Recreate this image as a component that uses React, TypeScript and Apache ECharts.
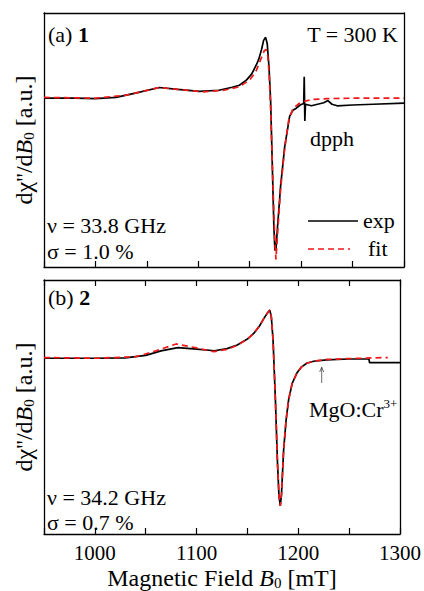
import React, { useEffect, useRef } from "react";
import * as echarts from "echarts";

// Panel (a) – compound 1, experimental spectrum
const fieldA = [950, 980, 1000, 1020, 1040, 1062, 1080, 1101, 1120, 1133, 1140, 1147, 1152, 1156.5, 1159, 1161.5, 1163.5, 1165.5, 1167, 1168.7, 1170.3, 1172, 1173.5, 1174.5, 1175.5, 1177, 1180, 1184, 1188.8, 1192, 1195.3, 1199, 1202.5, 1203.0, 1203.6, 1204.2, 1210, 1216, 1222, 1226, 1230, 1235, 1250, 1270, 1300];
const expA = [0, 0, -0.003, 0.005, 0.035, 0.07, 0.058, 0.045, 0.052, 0.072, 0.085, 0.12, 0.16, 0.22, 0.26, 0.32, 0.38, 0.4, 0.36, 0.21, -0.01, -0.45, -0.85, -1.0, -1.0, -0.85, -0.58, -0.32, -0.12, -0.08, -0.066, -0.045, -0.035, 0.14, -0.15, -0.04, -0.05, -0.04, -0.03, -0.016, -0.04, -0.05, -0.045, -0.04, -0.033];
// Panel (a) – fit
const fitFieldA = [950, 1000, 1030, 1062, 1080, 1105, 1125, 1140, 1150, 1156, 1161, 1164, 1166, 1167.5, 1169, 1170.5, 1172.5, 1174.5, 1175.5, 1177, 1180, 1184, 1188, 1192, 1198, 1203.4, 1212, 1225, 1250, 1300];
const fitA = [0.005, 0, 0.02, 0.07, 0.058, 0.042, 0.052, 0.075, 0.12, 0.175, 0.26, 0.31, 0.32, 0.28, 0.15, -0.1, -0.55, -0.95, -1.06, -0.9, -0.6, -0.33, -0.14, -0.07, -0.035, -0.02, -0.008, -0.003, 0, 0];

// Panel (b) – compound 2, experimental spectrum
const fieldB = [950, 1000, 1030, 1050, 1065, 1081.7, 1100, 1117.5, 1130, 1140, 1150, 1156.4, 1162, 1166.2, 1170, 1172, 1173.5, 1175.2, 1177.5, 1179.5, 1181, 1182.3, 1183.5, 1185.6, 1188, 1190.5, 1194, 1198.6, 1203, 1208.3, 1215, 1227.8, 1250, 1269.5, 1270, 1300];
const expB = [0, 0, 0.003, 0.02, 0.05, 0.072, 0.062, 0.051, 0.065, 0.09, 0.13, 0.17, 0.22, 0.27, 0.31, 0.326, 0.28, 0.124, -0.28, -0.7, -0.93, -1.0, -0.92, -0.62, -0.42, -0.28, -0.17, -0.1, -0.06, -0.034, -0.02, -0.011, -0.005, -0.005, -0.03, -0.03];
// Panel (b) – fit
const fitFieldB = [950, 1000, 1040, 1060, 1080, 1100, 1117, 1130, 1140, 1150, 1156.4, 1162, 1166.2, 1170, 1172, 1173.5, 1175.2, 1177.5, 1179.5, 1181, 1182.3, 1183.5, 1185.6, 1188, 1190.5, 1194, 1198.6, 1203, 1208.3, 1215, 1227.8, 1250, 1288];
const fitB = [0.005, 0, 0.01, 0.05, 0.097, 0.07, 0.045, 0.06, 0.088, 0.13, 0.17, 0.22, 0.27, 0.31, 0.326, 0.28, 0.124, -0.28, -0.7, -0.93, -1.0, -0.92, -0.62, -0.42, -0.28, -0.17, -0.1, -0.06, -0.034, -0.02, -0.008, -0.002, 0.005];

const xTickLabels = [1000, 1100, 1200, 1300];

const FONT = "Liberation Serif";

const zip = (xs: number[], ys: number[]) => xs.map((x, i) => [x, ys[i]]);

export default function App() {
  const ref = useRef<HTMLDivElement>(null);
  useEffect(() => {
    document.body.style.margin = "0";
    if (!ref.current) return;
    const chart = echarts.init(ref.current, null, { renderer: "svg" });
    const axisLine = { show: true, onZero: false, lineStyle: { color: "#000", width: 1.3 } };
    const yName = "{a|d\u03c7''/d}{b|B}{s|0}{a| [a.u.]}";
    const yRich = {
      a: { fontFamily: FONT, fontSize: 24, color: "#000" },
      b: { fontFamily: FONT, fontSize: 24, fontStyle: "italic", color: "#000" },
      s: { fontFamily: FONT, fontSize: 15, color: "#000", padding: [10, 0, 0, 0] },
    };
    const baseX = {
      type: "value",
      min: 950,
      max: 1300,
      interval: 50,
      splitLine: { show: false },
      axisLine,
    };
    const baseY = {
      type: "value",
      splitLine: { show: false },
      axisTick: { show: false },
      axisLabel: { show: false },
      axisLine,
    };
    const txt = (x: number, y: number, text: string, extra: any = {}) => ({
      type: "text",
      x,
      y,
      style: {
        text,
        fontFamily: FONT,
        fontSize: 22,
        fill: "#000",
        verticalAlign: "middle",
        ...extra,
      },
    });
    const expStyle = { color: "#000", width: 1.7 };
    const fitStyle = { color: "#f01818", width: 1.7, type: [6, 4] };
    chart.setOption({
      animation: false,
      backgroundColor: "#fff",
      grid: [
        { left: 44, right: 20, top: 13, height: 254 },
        { left: 44, right: 20, top: 280, height: 254 },
      ],
      xAxis: [
        { ...baseX, gridIndex: 0, position: "bottom", axisTick: { inside: true, length: 6, lineStyle: { width: 1.2 } }, axisLabel: { show: false } },
        { ...baseX, gridIndex: 0, position: "top", axisTick: { show: false }, axisLabel: { show: false } },
        {
          ...baseX,
          gridIndex: 1,
          position: "bottom",
          axisTick: { inside: true, length: 6, lineStyle: { width: 1.2 } },
          axisLabel: {
            margin: 8,
            fontFamily: FONT,
            fontSize: 21,
            color: "#000",
            formatter: (v: number) => (xTickLabels.includes(v) ? String(v) : ""),
          },
          name: "{a|Magnetic Field }{b|B}{s|0}{a| [mT]}",
          nameLocation: "middle",
          nameGap: 31,
          nameTextStyle: {
            rich: {
              a: { fontFamily: FONT, fontSize: 24, color: "#000" },
              b: { fontFamily: FONT, fontSize: 24, fontStyle: "italic", color: "#000" },
              s: { fontFamily: FONT, fontSize: 15, color: "#000", padding: [10, 0, 0, 0] },
            },
          },
        },
        { ...baseX, gridIndex: 1, position: "top", axisTick: { inside: true, length: 6, lineStyle: { width: 1.2 } }, axisLabel: { show: false } },
      ],
      yAxis: [
        { ...baseY, gridIndex: 0, position: "left", min: -1.11, max: 0.56, name: yName, nameLocation: "middle", nameRotate: 90, nameGap: 8, nameTextStyle: { rich: yRich } },
        { ...baseY, gridIndex: 0, position: "right", min: -1.11, max: 0.56 },
        { ...baseY, gridIndex: 1, position: "left", min: -1.19, max: 0.53, name: yName, nameLocation: "middle", nameRotate: 90, nameGap: 8, nameTextStyle: { rich: yRich } },
        { ...baseY, gridIndex: 1, position: "right", min: -1.19, max: 0.53 },
      ],
      series: [
        { type: "line", xAxisIndex: 0, yAxisIndex: 0, data: zip(fieldA, expA), showSymbol: false, lineStyle: expStyle, z: 2 },
        { type: "line", xAxisIndex: 0, yAxisIndex: 0, data: zip(fitFieldA, fitA), showSymbol: false, lineStyle: fitStyle, z: 3 },
        { type: "line", xAxisIndex: 2, yAxisIndex: 2, data: zip(fieldB, expB), showSymbol: false, lineStyle: expStyle, z: 2 },
        { type: "line", xAxisIndex: 2, yAxisIndex: 2, data: zip(fitFieldB, fitB), showSymbol: false, lineStyle: fitStyle, z: 3 },
      ],
      graphic: [
        txt(48, 34, "(a) {bd|1}", { rich: { bd: { fontFamily: FONT, fontSize: 22, fontWeight: "bold", fill: "#000" } } }),
        txt(398, 34, "T = 300 K", { align: "right" }),
        txt(310, 138, "dpph"),
        txt(47, 225, "\u03bd = 33.8 GHz"),
        txt(47, 251, "\u03c3 = 1.0 %"),
        { type: "line", shape: { x1: 308, y1: 221, x2: 358, y2: 221 }, style: { stroke: "#000", lineWidth: 1.6 } },
        { type: "line", shape: { x1: 308, y1: 249, x2: 350, y2: 249 }, style: { stroke: "#f01818", lineWidth: 1.7, lineDash: [6, 4] } },
        txt(363, 220, "exp"),
        txt(368, 248, "fit"),
        txt(48, 297, "(b) {bd|2}", { rich: { bd: { fontFamily: FONT, fontSize: 22, fontWeight: "bold", fill: "#000" } } }),
        { type: "line", shape: { x1: 321.7, y1: 383, x2: 321.7, y2: 368 }, style: { stroke: "#444", lineWidth: 0.8 } },
        { type: "polyline", shape: { points: [[319.7, 372], [321.7, 367], [323.7, 372]] }, style: { stroke: "#444", lineWidth: 0.8, fill: null } },
        txt(309, 409, "{a|MgO:Cr}{sup|3+}", {
          rich: {
            a: { fontFamily: FONT, fontSize: 22, fill: "#000" },
            sup: { fontFamily: FONT, fontSize: 13, fill: "#000", padding: [0, 0, 12, 0] },
          },
        }),
        txt(47, 497, "\u03bd = 34.2 GHz"),
        txt(47, 522, "\u03c3 = 0.7 %"),
      ],
    });
    return () => chart.dispose();
  }, []);
  return <div ref={ref} style={{ width: 424, height: 591 }} />;
}
